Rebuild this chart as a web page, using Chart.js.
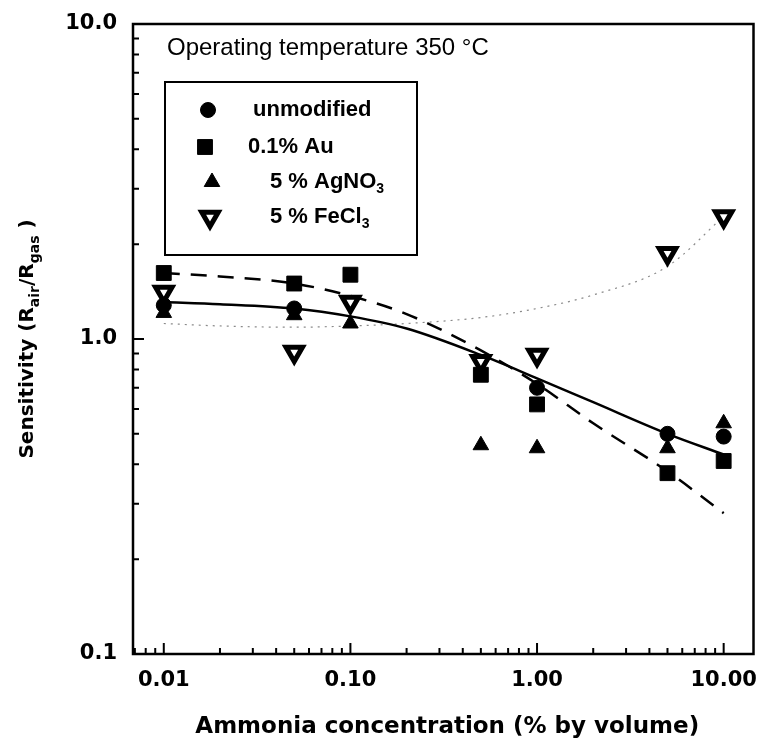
<!DOCTYPE html>
<html>
<head>
<meta charset="utf-8">
<script src="https://cdn.jsdelivr.net/npm/chart.js@4/dist/chart.umd.min.js"></script>
<style>
  html, body { margin: 0; padding: 0; background: #fff; }
  #wrap { width: 768px; height: 749px; position: relative; }
</style>
</head>
<body>
<div id="wrap"><canvas id="c" width="768" height="749"></canvas></div>
<script>
// Ammonia concentration (% by volume) for each measurement
const concentrations = [0.01, 0.05, 0.1, 0.5, 1, 5, 10];

// Sensitivity (R_air / R_gas) at 350 °C
const unmodified     = [1.28, 1.25, null, null, 0.70, 0.50, 0.49];
const goldDoped      = [1.62, 1.50, 1.60, 0.77, 0.62, 0.375, 0.41];
const silverNitrate  = [1.21, 1.19, 1.12, 0.46, 0.45, 0.45, 0.54];
const ferricChloride = [1.41, 0.91, 1.31, 0.85, 0.89, 1.87, 2.45];

// Trend curves through the measurements
const fitX           = [0.01, 0.02, 0.05, 0.1, 0.2, 0.5, 1, 2, 5, 10];
const fitUnmodified  = [1.31, 1.29, 1.25, 1.18, 1.08, 0.89, 0.75, 0.63, 0.50, 0.43];
const fitGold        = [1.62, 1.58, 1.50, 1.37, 1.20, 0.92, 0.72, 0.54, 0.38, 0.28];
const fitFerric      = [1.12, 1.10, 1.09, 1.10, 1.12, 1.17, 1.25, 1.38, 1.70, 2.45];

// Axis ticks
const xTickValues = [0.01, 0.1, 1, 10];
const xTickLabels = ['0.01', '0.10', '1.00', '10.00'];
const yTickValues = [0.1, 1, 10];
const yTickLabels = ['0.1', '1.0', '10.0'];
const xMinorTicks = [0.007, 0.008, 0.009, 0.02, 0.03, 0.04, 0.05, 0.06, 0.07, 0.08, 0.09,
                     0.2, 0.3, 0.4, 0.5, 0.6, 0.7, 0.8, 0.9, 2, 3, 4, 5, 6, 7, 8, 9];
const yMinorTicks = [0.2, 0.3, 0.4, 0.5, 0.6, 0.7, 0.8, 0.9, 2, 3, 4, 5, 6, 7, 8, 9];

// Legend entries
const legendLabels = [
  [{ t: 'unmodified' }],
  [{ t: '0.1% Au' }],
  [{ t: '5 % AgNO' }, { t: '3', sub: true }],
  [{ t: '5 % FeCl' }, { t: '3', sub: true }]
];

const SANS = '"Liberation Sans", Arial, Helvetica, sans-serif';
const HEAVY = '"DejaVu Sans", Verdana, sans-serif';

const toPoints = (xs, ys) => xs.map((x, i) => ({ x: x, y: ys[i] })).filter(p => p.y !== null);

const markerStyles = [
  { pointStyle: 'circle',   radius: 7.5,  rotation: 0,   borderWidth: 1, fill: '#000' },
  { pointStyle: 'rect',     radius: 10.5, rotation: 0,   borderWidth: 1, fill: '#000' },
  { pointStyle: 'triangle', radius: 9,    rotation: 0,   borderWidth: 1, fill: '#000' },
  { pointStyle: 'triangle', radius: 9.5,  rotation: 180, borderWidth: 5, fill: '#fff' }
];

function markerDataset(label, values, m, order) {
  return {
    type: 'scatter',
    label: label,
    data: toPoints(concentrations, values),
    showLine: false,
    pointStyle: m.pointStyle,
    pointRadius: m.radius,
    pointHoverRadius: m.radius,
    rotation: m.rotation,
    pointBorderWidth: m.borderWidth,
    pointBackgroundColor: m.fill,
    pointBorderColor: '#000',
    order: order
  };
}

function fitDataset(label, values, style, order) {
  return Object.assign({
    type: 'line',
    label: label,
    data: toPoints(fitX, values),
    pointRadius: 0,
    fill: false,
    cubicInterpolationMode: 'monotone',
    order: order
  }, style);
}

// Text runs with subscript pieces
function richWidth(ctx, parts, size, subSize) {
  let w = 0;
  parts.forEach(p => {
    ctx.font = (p.sub ? subSize : size);
    w += ctx.measureText(p.t).width;
  });
  return w;
}
function drawRich(ctx, parts, x, y, size, subSize, subDrop) {
  let cx = x;
  parts.forEach(p => {
    ctx.font = (p.sub ? subSize : size);
    ctx.fillText(p.t, cx, p.sub ? y + subDrop : y);
    cx += ctx.measureText(p.t).width;
  });
}

function drawMarker(ctx, m, x, y) {
  ctx.save();
  ctx.fillStyle = m.fill;
  ctx.strokeStyle = '#000';
  ctx.lineWidth = m.borderWidth;
  if (Chart.helpers && Chart.helpers.drawPoint) {
    Chart.helpers.drawPoint(ctx, { pointStyle: m.pointStyle, radius: m.radius, rotation: m.rotation, borderWidth: m.borderWidth }, x, y);
  }
  ctx.restore();
}

const framePlugin = {
  id: 'frame',
  afterDraw(chart) {
    const ctx = chart.ctx;
    const a = chart.chartArea;
    const xs = chart.scales.x, ys = chart.scales.y;
    ctx.save();
    ctx.strokeStyle = '#000';

    // inward tick marks on left and bottom axes
    ctx.lineWidth = 2;
    ctx.beginPath();
    xTickValues.forEach(v => { const px = xs.getPixelForValue(v); ctx.moveTo(px, a.bottom); ctx.lineTo(px, a.bottom - 11); });
    xMinorTicks.forEach(v => { const px = xs.getPixelForValue(v); ctx.moveTo(px, a.bottom); ctx.lineTo(px, a.bottom - 6); });
    yTickValues.forEach(v => { const py = ys.getPixelForValue(v); ctx.moveTo(a.left, py); ctx.lineTo(a.left + 11, py); });
    yMinorTicks.forEach(v => { const py = ys.getPixelForValue(v); ctx.moveTo(a.left, py); ctx.lineTo(a.left + 6, py); });
    ctx.stroke();

    // plot frame
    ctx.lineWidth = 2.5;
    ctx.strokeRect(a.left, a.top, a.right - a.left, a.bottom - a.top);

    // operating condition note
    ctx.fillStyle = '#000';
    ctx.textBaseline = 'middle';
    ctx.textAlign = 'left';
    ctx.font = '24px ' + SANS;
    ctx.fillText('Operating temperature 350 \u00B0C', 167, 48);

    // legend box
    ctx.lineWidth = 2;
    ctx.strokeRect(165, 82, 252, 173);
    const rows = [
      { mx: 208, tx: 253, y: 110 },
      { mx: 205, tx: 248, y: 147 },
      { mx: 212, tx: 270, y: 182 },
      { mx: 210, tx: 270, y: 217 }
    ];
    rows.forEach((r, i) => {
      drawMarker(ctx, markerStyles[i], r.mx, r.y);
      ctx.fillStyle = '#000';
      ctx.textBaseline = 'middle';
      drawRich(ctx, legendLabels[i], r.tx, r.y, 'bold 22px ' + SANS, 'bold 14px ' + SANS, 7);
    });

    // axis titles
    ctx.textBaseline = 'middle';
    ctx.font = 'bold 23px ' + HEAVY;
    ctx.textAlign = 'center';
    ctx.fillText('Ammonia concentration (% by volume)', (a.left + a.right) / 2 + 4, 727);

    const yTitle = [
      { t: 'Sensitivity (R' }, { t: 'air', sub: true }, { t: '/R' }, { t: 'gas', sub: true }, { t: ' )' }
    ];
    const big = 'bold 20px ' + HEAVY, small = 'bold 14px ' + HEAVY;
    ctx.textAlign = 'left';
    ctx.translate(28, (a.top + a.bottom) / 2);
    ctx.rotate(-Math.PI / 2);
    const w = richWidth(ctx, yTitle, big, small);
    drawRich(ctx, yTitle, -w / 2, 0, big, small, 7);
    ctx.restore();
  }
};

const tickFont = { family: HEAVY, size: 21, weight: 'bold' };

new Chart(document.getElementById('c'), {
  type: 'scatter',
  data: {
    datasets: [
      fitDataset('unmodified fit', fitUnmodified, { borderColor: '#000', borderWidth: 2.5 }, 10),
      fitDataset('0.1% Au fit', fitGold, { borderColor: '#000', borderWidth: 2.5, borderDash: [16, 11] }, 11),
      fitDataset('5 % FeCl3 fit', fitFerric, { borderColor: '#8a8a8a', borderWidth: 1.2, borderDash: [2, 5] }, 12),
      markerDataset('unmodified', unmodified, markerStyles[0], 4),
      markerDataset('0.1% Au', goldDoped, markerStyles[1], 3),
      markerDataset('5 % AgNO3', silverNitrate, markerStyles[2], 2),
      markerDataset('5 % FeCl3', ferricChloride, markerStyles[3], 1)
    ]
  },
  options: {
    responsive: false,
    animation: false,
    devicePixelRatio: 1,
    layout: { padding: { top: 24, right: 10, left: 0, bottom: 0 } },
    plugins: { legend: { display: false }, tooltip: { enabled: false } },
    scales: {
      x: {
        type: 'logarithmic',
        min: 0.00684,
        max: 14.45,
        afterBuildTicks: s => { s.ticks = xTickValues.map(v => ({ value: v, major: true })); },
        afterFit: s => { s.height = 95; s.paddingLeft = 0; s.paddingRight = 0; },
        ticks: {
          callback: (v, i) => xTickLabels[i],
          font: tickFont, color: '#000', padding: 14,
          maxRotation: 0, minRotation: 0, autoSkip: false
        },
        grid: { display: false, drawTicks: false },
        border: { display: false }
      },
      y: {
        type: 'logarithmic',
        min: 0.1,
        max: 10,
        afterBuildTicks: s => { s.ticks = yTickValues.map(v => ({ value: v, major: true })); },
        afterFit: s => { s.width = 133; s.paddingTop = 0; s.paddingBottom = 0; },
        ticks: {
          callback: (v, i) => yTickLabels[i],
          font: tickFont, color: '#000', padding: 16, autoSkip: false
        },
        grid: { display: false, drawTicks: false },
        border: { display: false }
      }
    }
  },
  plugins: [framePlugin]
});
</script>
</body>
</html>
